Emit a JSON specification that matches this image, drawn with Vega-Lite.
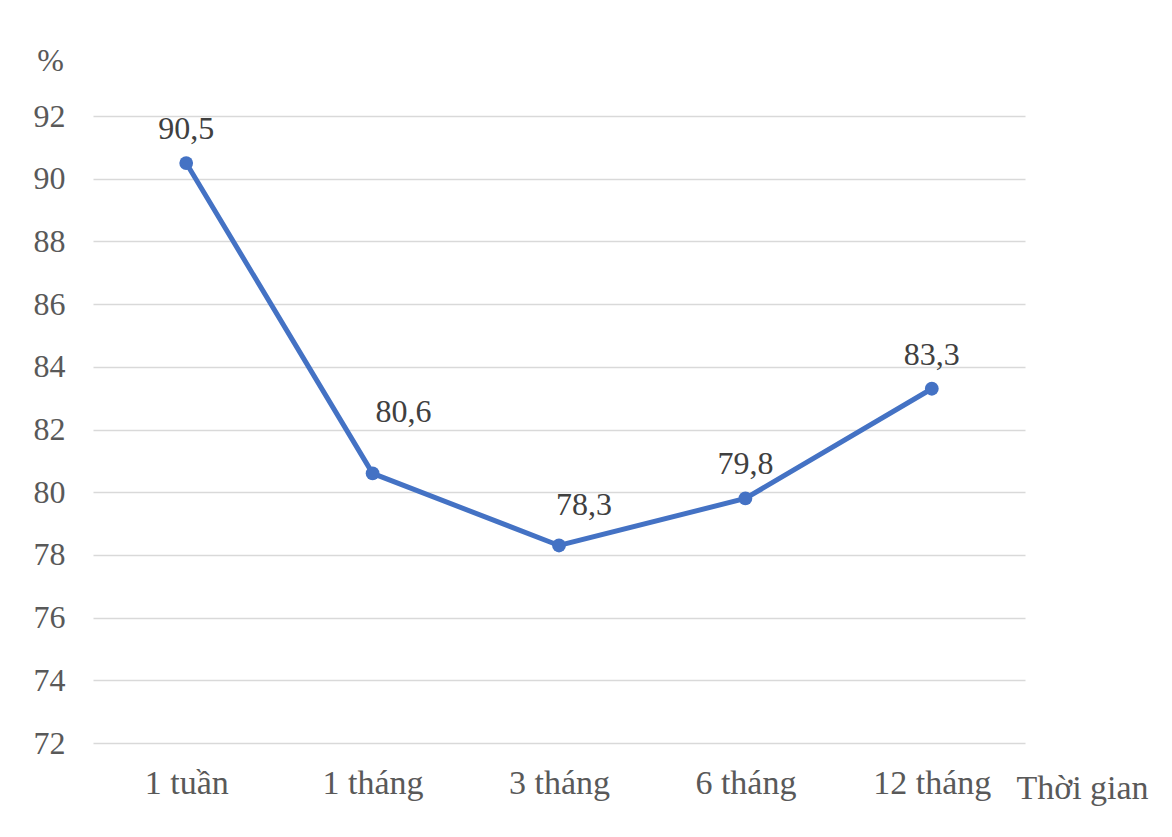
{
  "$schema": "https://vega.github.io/schema/vega-lite/v6.json",
  "width": 932,
  "height": 627,
  "autosize": {"type": "none"},
  "padding": {"left": 93, "top": 116, "right": 147, "bottom": 94},
  "background": "white",
  "config": {
    "view": {"stroke": null},
    "font": "Liberation Serif"
  },
  "data": {
    "values": [
      {"t": "1 tuần", "v": 90.5, "lbl": "90,5"},
      {"t": "1 tháng", "v": 80.6, "lbl": "80,6"},
      {"t": "3 tháng", "v": 78.3, "lbl": "78,3"},
      {"t": "6 tháng", "v": 79.8, "lbl": "79,8"},
      {"t": "12 tháng", "v": 83.3, "lbl": "83,3"}
    ]
  },
  "encoding": {
    "x": {
      "field": "t",
      "type": "nominal",
      "sort": null,
      "scale": {"paddingInner": 0, "paddingOuter": 0.5},
      "axis": {
        "title": "Thời gian",
        "titleFont": "Liberation Serif",
        "titleFontSize": 34,
        "titleFontWeight": "normal",
        "titleColor": "#595959",
        "titleX": 989,
        "titleY": 55,
        "titleAlign": "center",
        "titleBaseline": "alphabetic",
        "labelAngle": 0,
        "labelFont": "Liberation Serif",
        "labelFontSize": 34,
        "labelColor": "#595959",
        "labelPadding": 23,
        "ticks": false,
        "domain": false,
        "grid": false
      }
    },
    "y": {
      "field": "v",
      "type": "quantitative",
      "scale": {"domain": [72, 92], "nice": false, "zero": false},
      "axis": {
        "values": [72, 74, 76, 78, 80, 82, 84, 86, 88, 90, 92],
        "title": "%",
        "titleAngle": 0,
        "titleFont": "Liberation Serif",
        "titleFontSize": 32,
        "titleFontWeight": "normal",
        "titleColor": "#595959",
        "titleX": -43,
        "titleY": -56,
        "titleAlign": "center",
        "titleBaseline": "middle",
        "labelFont": "Liberation Serif",
        "labelFontSize": 32,
        "labelColor": "#595959",
        "labelPadding": 28,
        "ticks": false,
        "domain": false,
        "grid": true,
        "gridColor": "#d9d9d9",
        "gridWidth": 1.5
      }
    }
  },
  "layer": [
    {
      "mark": {"type": "line", "color": "#4472C4", "strokeWidth": 5}
    },
    {
      "mark": {"type": "point", "filled": true, "color": "#4472C4", "size": 190, "opacity": 1}
    },
    {
      "transform": [{"filter": "datum.t != '1 tháng' && datum.t != '3 tháng'"}],
      "mark": {"type": "text", "dy": -34, "fontSize": 32, "color": "#404040", "font": "Liberation Serif"},
      "encoding": {"text": {"field": "lbl"}}
    },
    {
      "transform": [{"filter": "datum.t == '1 tháng'"}],
      "mark": {"type": "text", "dy": -61, "dx": 31, "fontSize": 32, "color": "#404040", "font": "Liberation Serif"},
      "encoding": {"text": {"field": "lbl"}}
    },
    {
      "transform": [{"filter": "datum.t == '3 tháng'"}],
      "mark": {"type": "text", "dy": -40, "dx": 25, "fontSize": 32, "color": "#404040", "font": "Liberation Serif"},
      "encoding": {"text": {"field": "lbl"}}
    }
  ]
}
